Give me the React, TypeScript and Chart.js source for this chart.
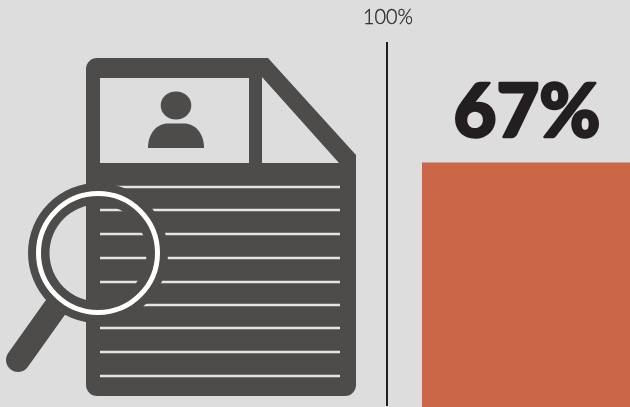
import React, { useEffect, useRef } from "react";
import { Chart, registerables, Plugin } from "chart.js";

Chart.register(...registerables);

const categories = ["Share"];
const shareValues = [67];
const axisMin = 0;
const axisMax = 100;

const PAGE_BG = "#dddddd";
const ICON_DARK = "#4d4c4a";
const BAR_COLOR = "#cb6646";
const INK = "#231f20";
const LINE_LIGHT = "#e4e4e3";

const ruledLineRows = [187, 210, 234, 258, 282, 305, 328, 352, 376];

// Document-and-magnifier pictogram to the left of the axis.
function drawIcon(ctx: CanvasRenderingContext2D) {
  ctx.save();
  ctx.fillStyle = ICON_DARK;

  // Sheet outline with a cut top-right corner, plus the two header cut-outs.
  const r = 11;
  ctx.beginPath();
  ctx.moveTo(86 + r, 58);
  ctx.lineTo(268, 58);
  ctx.lineTo(356, 155);
  ctx.lineTo(356, 396 - r);
  ctx.arcTo(356, 396, 356 - r, 396, r);
  ctx.lineTo(86 + r, 396);
  ctx.arcTo(86, 396, 86, 396 - r, r);
  ctx.lineTo(86, 58 + r);
  ctx.arcTo(86, 58, 86 + r, 58, r);
  ctx.closePath();
  ctx.rect(100, 78, 149, 85);
  ctx.moveTo(262, 77);
  ctx.lineTo(262, 163);
  ctx.lineTo(339, 163);
  ctx.closePath();
  ctx.fill("evenodd");

  // Portrait in the header box.
  ctx.beginPath();
  ctx.ellipse(176, 105.5, 15.3, 14, 0, 0, Math.PI * 2);
  ctx.fill();
  ctx.beginPath();
  ctx.moveTo(148, 148);
  ctx.lineTo(204, 148);
  ctx.bezierCurveTo(204, 133, 195, 123.5, 184, 123.5);
  ctx.lineTo(168, 123.5);
  ctx.bezierCurveTo(157, 123.5, 148, 133, 148, 148);
  ctx.closePath();
  ctx.fill();

  // Ruled text lines on the sheet.
  ctx.strokeStyle = LINE_LIGHT;
  ctx.lineWidth = 2.5;
  ruledLineRows.forEach((y) => {
    ctx.beginPath();
    ctx.moveTo(100, y);
    ctx.lineTo(340, y);
    ctx.stroke();
  });

  // Magnifier handle, rim and white ring.
  const cx = 98;
  const cy = 253;
  ctx.strokeStyle = ICON_DARK;
  ctx.lineCap = "round";
  ctx.lineWidth = 24;
  ctx.beginPath();
  ctx.moveTo(55, 308);
  ctx.lineTo(18, 360);
  ctx.stroke();

  ctx.fillStyle = ICON_DARK;
  ctx.beginPath();
  ctx.arc(cx, cy, 70, 0, Math.PI * 2);
  ctx.arc(cx, cy, 48.5, 0, Math.PI * 2, true);
  ctx.fill();

  ctx.strokeStyle = "#ffffff";
  ctx.lineWidth = 5;
  ctx.lineCap = "butt";
  ctx.beginPath();
  ctx.arc(cx, cy, 59.5, 0, Math.PI * 2);
  ctx.stroke();
  ctx.restore();
}

const backdrop: Plugin<"bar"> = {
  id: "backdrop",
  beforeDraw(chart) {
    const { ctx, width, height } = chart;
    ctx.save();
    ctx.fillStyle = PAGE_BG;
    ctx.fillRect(0, 0, width, height);
    ctx.restore();
    drawIcon(ctx);
  },
};

const valueLabels: Plugin<"bar"> = {
  id: "valueLabels",
  afterDraw(chart) {
    const { ctx } = chart;
    const yScale = chart.scales.y;
    const bar = chart.getDatasetMeta(0).data[0];
    const value = chart.data.datasets[0].data[0] as number;
    ctx.save();
    ctx.fillStyle = INK;
    ctx.strokeStyle = INK;
    ctx.textAlign = "center";
    ctx.textBaseline = "alphabetic";

    // Heavy value label sitting just above the bar, thickened with a thin outline.
    const labelX = bar.x + 0.5;
    const labelY = yScale.getPixelForValue(value) - 25;
    ctx.font = "900 74px Lato";
    ctx.lineWidth = 2.5;
    ctx.lineJoin = "round";
    ctx.strokeText(`${value}%`, labelX, labelY);
    ctx.fillText(`${value}%`, labelX, labelY);

    ctx.font = "300 21px Lato";
    ctx.lineWidth = 0.3;
    ctx.strokeText(`${axisMax}%`, yScale.right + 1, yScale.getPixelForValue(axisMax) - 19, 50);
    ctx.fillText(`${axisMax}%`, yScale.right + 1, yScale.getPixelForValue(axisMax) - 19, 50);
    ctx.restore();
  },
};

export default function App() {
  const canvasRef = useRef<HTMLCanvasElement>(null);

  useEffect(() => {
    document.body.style.margin = "0";
    const chart = new Chart(canvasRef.current!, {
      type: "bar",
      data: {
        labels: categories,
        datasets: [
          {
            data: shareValues,
            backgroundColor: BAR_COLOR,
            borderWidth: 0,
            barPercentage: 0.749,
            categoryPercentage: 1,
            base: -0.6,
            clip: false,
          },
        ],
      },
      options: {
        responsive: false,
        animation: false,
        layout: { padding: { left: 387, right: 0, top: 43, bottom: 2 } },
        plugins: { legend: { display: false }, tooltip: { enabled: false } },
        scales: {
          x: { display: false },
          y: {
            min: axisMin,
            max: axisMax,
            ticks: { display: false },
            grid: { drawOnChartArea: false, drawTicks: false },
            border: { display: true, color: INK, width: 2 },
          },
        },
      },
      plugins: [backdrop, valueLabels],
    });
    return () => chart.destroy();
  }, []);

  // The plot runs a little past the right edge, so the bar bleeds off the frame.
  return (
    <div style={{ width: 630, height: 407, overflow: "hidden" }}>
      <canvas ref={canvasRef} width={666} height={407} style={{ display: "block" }} />
    </div>
  );
}
